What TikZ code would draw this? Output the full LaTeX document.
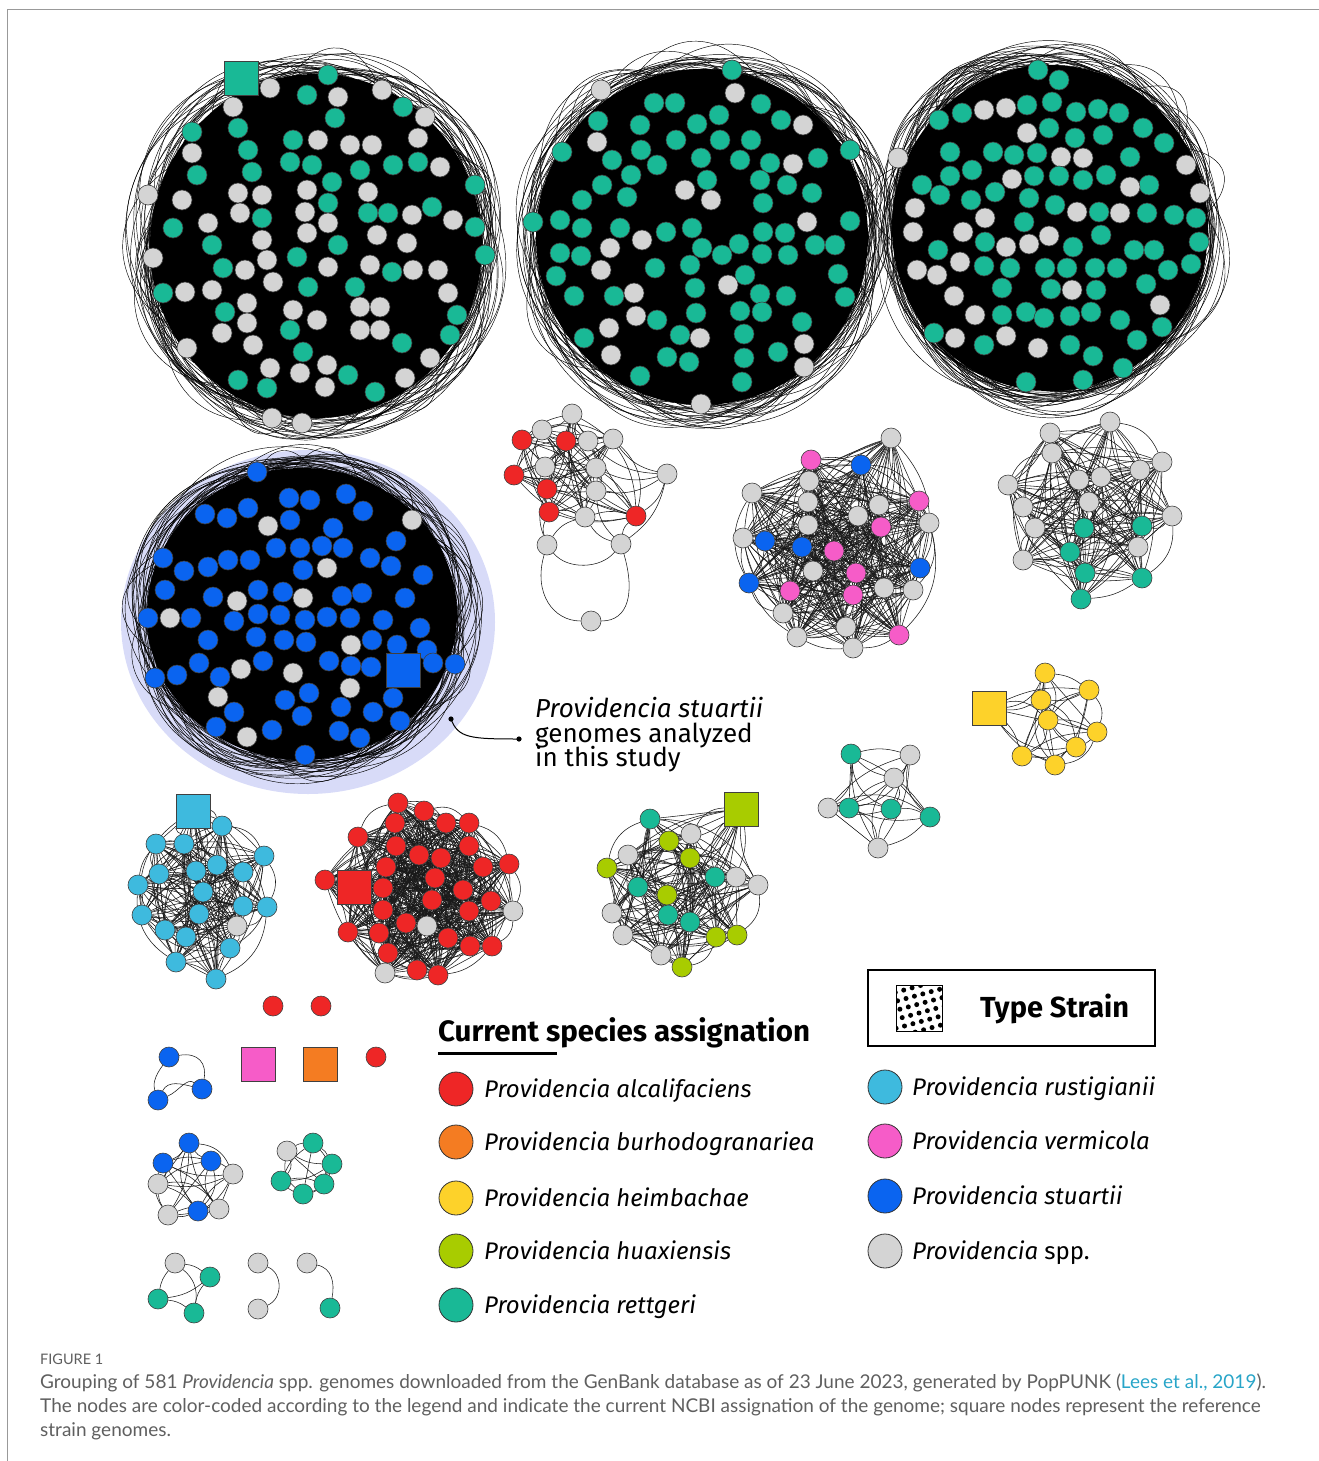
\documentclass[tikz,border=0pt]{standalone}
\usepackage{fontspec}
\setmainfont{Fira Sans}
\newfontfamily\capfont{Lato}
\usetikzlibrary{calc}
\definecolor{colT}{RGB}{25,185,150}
\definecolor{colG}{RGB}{212,212,212}
\definecolor{colR}{RGB}{238,38,38}
\definecolor{colO}{RGB}{244,124,34}
\definecolor{colY}{RGB}{253,210,42}
\definecolor{colL}{RGB}{168,204,0}
\definecolor{colC}{RGB}{62,186,222}
\definecolor{colP}{RGB}{246,92,200}
\definecolor{colB}{RGB}{10,100,240}
\definecolor{colHalo}{RGB}{216,219,248}
\definecolor{colLink}{RGB}{40,165,200}
\definecolor{colCap}{RGB}{95,95,95}
\pgfdeclarelayer{back}
\pgfdeclarelayer{lnks}
\pgfsetlayers{back,lnks,main}
\tikzset{
 nd/.style={circle, draw=black!75, line width=0.6pt, minimum size=20pt, inner sep=0pt},
 sq/.style={rectangle, draw=black!75, line width=0.6pt, minimum size=34pt, inner sep=0pt},
 lnk/.style={draw=black!90, line width=0.55pt},
 rng/.style={draw=black, line width=0.45pt},
 legc/.style={circle, draw=black!80, line width=0.8pt, minimum size=34pt, inner sep=0pt},
 legtxt/.style={anchor=base west, font=\fontsize{24}{28}\selectfont\itshape, inner sep=0pt},
 anntxt/.style={anchor=base west, inner sep=0pt, font=\fontsize{26}{26}\selectfont},
}
\newcommand\denseblob[4]{%
 \fill[black] (#1,#2) ellipse [x radius=#3, y radius=#4];
 \foreach \k in {1,...,105}{
   \pgfmathsetmacro\aa{rnd*360}
   \pgfmathsetmacro\ss{20+rnd*115}
   \pgfmathsetmacro\ee{1.02+rnd*0.15}
   \pgfmathsetmacro\bb{\aa+\ss}
   \pgfmathsetmacro\ab{\aa+\ss/3}
   \pgfmathsetmacro\ba{\bb-\ss/3}
   \pgfmathsetmacro\fc{(\ee-0.25*cos(\ss/2))/(0.75*cos(\ss/6))}
   \pgfmathsetmacro\pax{#1+#3*cos(\aa)}
   \pgfmathsetmacro\pay{#2+#4*sin(\aa)}
   \pgfmathsetmacro\pbx{#1+#3*cos(\bb)}
   \pgfmathsetmacro\pby{#2+#4*sin(\bb)}
   \pgfmathsetmacro\qax{#1+#3*\fc*cos(\ab)}
   \pgfmathsetmacro\qay{#2+#4*\fc*sin(\ab)}
   \pgfmathsetmacro\qbx{#1+#3*\fc*cos(\ba)}
   \pgfmathsetmacro\qby{#2+#4*\fc*sin(\ba)}
   \draw[rng] (\pax,\pay) .. controls (\qax,\qay) and (\qbx,\qby) .. (\pbx,\pby);
 }}
\newcommand\allpairs[2]{%
 \foreach \i in {1,...,#2}{
   \pgfmathtruncatemacro\ia{\i+1}
   \ifnum\ia>#2\relax\else
   \foreach \j in {\ia,...,#2}{
     \pgfmathtruncatemacro\bd{mod(\i*7+\j*3,5)*15-30}
     \draw[lnk] (#1\i) to[bend left=\bd] (#1\j);
   }\fi
 }}
\begin{document}
\begin{tikzpicture}[x=1pt,y=-1pt]
\pgfmathsetseed{4242}
\useasboundingbox (0,0) rectangle (1319,1461);
\draw[black!40, line width=0.8pt] (7,1461) -- (7,9) -- (1319,9);

\begin{pgfonlayer}{back}
\denseblob{316}{246}{166}{172}
\denseblob{702}{237}{166}{168}
\denseblob{1050}{228}{158}{163}
\fill[colHalo] (308,622) ellipse [x radius=187, y radius=172];
\denseblob{302}{614}{155}{146}
\end{pgfonlayer}

% ---------- big cluster 1 ----------
\node[sq,fill=colT] (A0) at (241,78) {};
\foreach \x/\y/\c [count=\i] in {270/88/G, 328/75/T, 307/95/T, 338/97/G, 382/90/G, 403/107/T, 425/117/G, 233/107/G, 335/118/T, 192/132/T, 238/128/T, 192/153/G, 248/150/T, 293/140/T, 318/140/G, 350/145/G, 372/145/G, 418/138/G, 418/162/T, 197/175/T, 252/172/T, 290/162/T, 312/165/T, 360/170/T, 393/165/T, 440/167/G, 475/185/T, 148/195/G, 182/200/G, 238/193/G, 262/195/G, 307/190/G, 332/182/T, 368/192/G, 328/203/T, 432/207/T, 368/213/T, 388/213/T, 412/215/G, 453/220/G, 475/227/T, 173/228/T, 208/223/G, 240/213/G, 262/218/T, 305/212/G, 328/223/G, 307/233/G, 377/235/G, 407/243/G, 485/255/T, 153/258/G, 212/245/T, 262/240/G, 338/245/T, 297/257/T, 267/260/G, 223/268/T, 245/270/G, 328/267/G, 370/265/G, 392/272/T, 413/270/G, 438/270/G, 163/293/T, 185/292/G, 212/290/G, 273/282/G, 308/287/T, 355/287/T, 448/293/G, 247/303/G, 225/312/T, 293/310/G, 360/307/G, 380/307/G, 457/315/T, 247/323/G, 317/320/G, 222/333/G, 290/330/T, 360/330/G, 380/330/G, 450/335/T, 253/345/G, 303/352/T, 402/343/T, 187/348/G, 430/358/G, 270/368/G, 300/373/G, 327/365/G, 348/375/T, 405/378/G, 238/380/T, 267/388/T, 325/387/G, 375/392/T, 272/418/G, 302/423/G}
  \node[nd,fill=col\c] (A\i) at (\x,\y) {};

% ---------- big cluster 2 ----------
\foreach \x/\y/\c [count=\i] in {732/70/T, 601/90/G, 735/93/G, 654/103/T, 675/103/T, 761/104/T, 598/121/T, 640/125/T, 697/124/T, 719/115/T, 781/120/T, 803/125/G, 597/142/G, 641/150/T, 676/140/T, 720/140/T, 751/140/T, 818/158/T, 850/150/T, 562/152/T, 612/160/T, 657/165/T, 701/158/T, 740/160/T, 770/163/T, 793/164/G, 602/185/T, 631/175/T, 685/190/G, 707/180/T, 760/180/T, 787/185/T, 812/193/T, 582/200/T, 627/197/T, 711/200/G, 763/203/T, 807/222/G, 850/221/T, 533/222/T, 560/220/T, 582/228/T, 620/228/T, 642/240/G, 666/232/T, 692/228/T, 739/244/T, 763/232/T, 785/233/T, 815/245/T, 560/253/T, 581/256/T, 610/248/G, 702/248/T, 722/255/T, 762/254/T, 788/255/T, 835/245/T, 556/276/T, 601/270/G, 655/268/T, 690/265/T, 745/275/T, 838/274/T, 574/296/T, 614/296/T, 634/293/G, 695/288/T, 728/285/G, 760/294/T, 786/296/T, 845/297/T, 636/316/G, 657/320/T, 696/313/T, 740/311/T, 762/312/T, 802/322/T, 584/338/T, 609/328/G, 680/335/T, 700/338/G, 744/334/T, 804/344/G, 611/355/G, 667/357/T, 689/362/T, 744/358/T, 778/352/T, 804/367/G, 640/376/T, 742/382/T, 701/404/G}
  \node[nd,fill=col\c] (K\i) at (\x,\y) {};

% ---------- big cluster 3 ----------
\foreach \x/\y/\c [count=\i] in {1038/70/T, 1059/80/T, 1006/108/G, 1027/105/T, 1052/102/T, 984/110/G, 962/113/T, 939/120/T, 1076/112/T, 1098/109/T, 1119/113/T, 1143/128/T, 1164/143/T, 1027/133/G, 1049/128/T, 1075/138/T, 1103/135/T, 1186/165/G, 898/158/G, 950/152/T, 972/170/T, 993/152/T, 1014/155/T, 1037/153/T, 1061/157/G, 1083/158/G, 1130/157/T, 1106/175/T, 922/185/T, 950/176/T, 1012/179/G, 1034/176/T, 1059/176/T, 1083/180/T, 1149/185/T, 1130/187/G, 1200/193/G, 915/208/G, 940/195/T, 971/200/T, 995/192/T, 1029/198/T, 1055/205/T, 1077/212/G, 1099/212/T, 1120/213/G, 1147/213/T, 1174/215/T, 1196/218/T, 913/232/G, 963/232/G, 985/218/G, 1024/222/T, 1049/236/G, 1101/235/T, 1199/242/T, 938/250/T, 985/242/T, 1006/247/G, 1029/244/G, 1073/247/T, 1134/250/T, 1154/250/T, 1191/264/T, 917/270/G, 960/262/G, 984/266/T, 1010/268/T, 1045/268/T, 1067/268/T, 1095/268/T, 1117/268/T, 1168/270/T, 937/275/G, 1002/288/T, 1051/289/T, 1072/290/G, 1096/290/T, 1146/284/T, 954/296/G, 1026/312/T, 1044/318/T, 1070/316/T, 1091/312/T, 1160/305/G, 975/315/G, 1120/320/T, 1162/327/T, 1002/315/T, 934/333/T, 1006/336/G, 1038/348/G, 1070/345/T, 984/345/T, 1137/340/T, 955/338/G, 1093/356/T, 1123/368/T, 1026/382/T, 1083/380/T}
  \node[nd,fill=col\c] (M\i) at (\x,\y) {};

% ---------- blue cluster ----------
\foreach \x/\y/\c [count=\i] in {257/472/B, 346/494/B, 289/498/B, 310/500/B, 248/508/B, 205/514/B, 227/518/B, 363/511/B, 412/520/G, 290/520/B, 268/526/G, 333/528/B, 396/541/B, 163/558/B, 276/548/B, 300/548/B, 322/546/B, 343/548/B, 208/567/B, 184/571/B, 228/560/B, 250/560/B, 303/570/B, 327/568/G, 370/558/B, 391/566/B, 423/575/B, 258/590/B, 283/592/B, 237/601/G, 303/598/G, 342/596/B, 362/593/B, 405/598/B, 165/590/B, 213/597/B, 148/618/B, 170/618/G, 191/618/B, 234/621/B, 258/614/B, 280/615/B, 305/620/B, 327/617/B, 350/618/B, 383/620/B, 420/628/B, 208/640/B, 256/637/B, 284/640/B, 306/642/B, 351/645/G, 372/640/B, 397/645/B, 427/650/B, 199/663/B, 241/669/G, 263/661/B, 293/673/G, 329/661/B, 351/666/B, 371/667/B, 433/663/B, 455/664/B, 155/678/B, 177/675/B, 220/677/B, 218/697/G, 285/700/B, 309/693/B, 350/688/G, 393/698/B, 234/712/B, 341/707/B, 302/716/B, 373/712/B, 400/721/B, 216/727/B, 247/737/G, 272/730/B, 339/731/B, 360/738/B, 305/755/B}
  \node[nd,fill=col\c] (B\i) at (\x,\y) {};
\node[sq,fill=colB] (B0) at (403,670) {};

% ---------- small red/gray cluster ----------
\foreach \x/\y/\c [count=\i] in {572/414/G, 542/430/G, 522/440/R, 566/441/R, 588/441/G, 613/439/G, 545/467/G, 596/468/G, 514/475/R, 547/489/R, 596/491/G, 549/512/R, 585/517/G, 636/516/R, 667/474/G, 547/545/G, 621/544/G, 591/621/G}
  \node[nd,fill=col\c] (R\i) at (\x,\y) {};

% ---------- pink/blue cluster ----------
\foreach \x/\y/\c [count=\i] in {891/438/G, 811/460/P, 861/465/B, 809/481/G, 752/493/G, 919/501/P, 808/502/G, 879/505/G, 858/516/G, 929/523/G, 808/525/G, 881/527/P, 743/538/G, 765/541/B, 802/547/B, 834/551/P, 813/571/G, 856/573/P, 920/568/B, 749/583/B, 790/591/P, 884/588/G, 913/590/G, 853/595/P, 783/613/G, 846/627/G, 797/637/G, 899/635/P, 853/648/G}
  \node[nd,fill=col\c] (P\i) at (\x,\y) {};

% ---------- gray/teal cluster ----------
\foreach \x/\y/\c [count=\i] in {1110/422/G, 1050/433/G, 1052/453/G, 1162/462/G, 1140/470/G, 1079/480/G, 1101/477/G, 1008/485/G, 1023/507/G, 1089/502/G, 1172/516/G, 1035/528/G, 1084/528/T, 1142/526/T, 1138/547/G, 1070/552/T, 1023/560/G, 1085/573/T, 1142/578/T, 1081/599/T}
  \node[nd,fill=col\c] (H\i) at (\x,\y) {};

% ---------- yellow cluster ----------
\foreach \x/\y [count=\i] in {1045/673, 1089/690, 1041/700, 1048/720, 1097/732, 1076/747, 1022/756, 1055/765}
  \node[nd,fill=colY] (Y\i) at (\x,\y) {};
\node[sq,fill=colY] (Y9) at (989,708) {};

% ---------- small teal/gray ----------
\foreach \x/\y/\c [count=\i] in {851/754/T, 910/755/G, 894/778/G, 828/808/G, 849/808/T, 891/809/T, 930/817/T, 878/848/G}
  \node[nd,fill=col\c] (F\i) at (\x,\y) {};

% ---------- light blue cluster ----------
\foreach \x/\y/\c [count=\i] in {222/826/C, 156/844/C, 184/844/C, 264/856/C, 217/865/C, 196/871/C, 159/874/C, 243/872/C, 138/885/C, 203/892/C, 243/906/C, 267/907/C, 142/915/C, 199/914/C, 237/926/G, 165/930/C, 186/937/C, 230/948/C, 176/962/C, 216/979/C}
  \node[nd,fill=col\c] (C\i) at (\x,\y) {};
\node[sq,fill=colC] (C21) at (193,811) {};

% ---------- red cluster ----------
\foreach \x/\y/\c [count=\i] in {398/803/R, 424/811/R, 395/823/R, 446/823/R, 469/823/R, 358/837/R, 396/846/R, 469/846/R, 419/855/R, 441/858/R, 386/867/R, 483/867/R, 509/864/R, 325/880/R, 435/878/R, 383/888/R, 463/890/R, 491/901/R, 432/900/R, 383/910/R, 513/911/G, 469/911/R, 406/923/R, 427/926/G, 348/932/R, 379/933/R, 448/938/R, 470/946/R, 492/946/R, 388/953/R, 385/973/G, 417/970/R, 438/975/R}
  \node[nd,fill=col\c] (D\i) at (\x,\y) {};
\node[sq,fill=colR] (D34) at (354,887) {};

% ---------- lime cluster ----------
\foreach \x/\y/\c [count=\i] in {650/819/T, 691/834/G, 669/841/L, 628/855/G, 690/858/L, 607/868/L, 715/877/T, 736/877/G, 758/885/G, 638/887/T, 667/895/L, 612/913/G, 668/915/T, 690/922/T, 623/935/G, 716/937/L, 737/935/L, 661/955/G, 682/967/L}
  \node[nd,fill=col\c] (E\i) at (\x,\y) {};
\node[sq,fill=colL] (E20) at (741,809) {};

% ---------- tiny components ----------
\node[nd,fill=colR] (S1) at (273,1006) {};
\node[nd,fill=colR] (S2) at (321,1006) {};
\node[nd,fill=colR] (S3) at (376,1057) {};
\node[sq,fill=colP] (S4) at (258,1064) {};
\node[sq,fill=colO] (S5) at (320,1064) {};
\node[nd,fill=colB] (T1) at (169,1057) {};
\node[nd,fill=colB] (T2) at (202,1089) {};
\node[nd,fill=colB] (T3) at (158,1100) {};
\foreach \x/\y/\c [count=\i] in {189/1143/B, 163/1163/B, 211/1161/B, 233/1174/G, 158/1184/G, 198/1211/B, 168/1215/G, 219/1209/G}
  \node[nd,fill=col\c] (U\i) at (\x,\y) {};
\foreach \x/\y/\c [count=\i] in {287/1151/G, 313/1143/T, 332/1164/T, 281/1181/T, 324/1184/T, 303/1194/T}
  \node[nd,fill=col\c] (V\i) at (\x,\y) {};
\foreach \x/\y/\c [count=\i] in {175/1263/G, 210/1277/T, 158/1299/T, 194/1313/T}
  \node[nd,fill=col\c] (W\i) at (\x,\y) {};
\node[nd,fill=colG] (X1) at (258,1263) {};
\node[nd,fill=colG] (X2) at (258,1309) {};
\node[nd,fill=colG] (Z1) at (307,1263) {};
\node[nd,fill=colT] (Z2) at (330,1308) {};

% ---------- edges ----------
\begin{pgfonlayer}{lnks}
\allpairs{R}{14}
\foreach \a/\b in {15/6,15/5,15/8,15/11,15/14,15/17,16/13,16/12,16/10,17/14,17/13,17/11}
  \draw[lnk] (R\a) to[bend left=20] (R\b);
\draw[lnk] (R16) .. controls +(20,25) and +(-20,25) .. (R17);
\draw[lnk] (R16) .. controls +(-14,48) and +(-38,0) .. (R18);
\draw[lnk] (R17) .. controls +(14,48) and +(38,0) .. (R18);
\allpairs{P}{29}
\allpairs{H}{20}
\allpairs{Y}{9}
\allpairs{F}{8}
\allpairs{C}{21}
\allpairs{D}{34}
\allpairs{E}{20}
\allpairs{U}{8}
\allpairs{V}{6}
\allpairs{W}{4}
\draw[lnk] (T1) .. controls +(30,-5) and +(5,-25) .. (T2);
\draw[lnk] (T1) .. controls +(-15,20) and +(-5,-15) .. (T3);
\draw[lnk] (T3) .. controls +(10,-20) and +(-20,-5) .. (T2);
\draw[lnk] (T3) .. controls +(20,-8) and +(-15,-12) .. (T2);
\draw[lnk] (X1) .. controls +(25,10) and +(25,-10) .. (X2);
\draw[lnk] (Z1) .. controls +(25,5) and +(5,-25) .. (Z2);
\end{pgfonlayer}

% ---------- annotation ----------
\coordinate (ann0) at (451,719);
\coordinate (ann1) at (519,739);
\draw[line width=1pt] (ann0) .. controls (458,738) and (470,739) .. (ann1);
\fill (ann0) circle (2.6);
\fill (ann1) circle (2.6);
\node[anntxt] (ann2) at (535,717) {\itshape Providencia stuartii};
\node[anntxt] (ann3) at (535,742) {genomes analyzed};
\node[anntxt] (ann4) at (535,766) {in this study};

% ---------- legend ----------
\node[anchor=base west,inner sep=0pt,font=\fontsize{29.5}{32}\selectfont\bfseries] (ltitle) at (438,1041) {Current species assignation};
\draw[line width=3pt] (438,1053) -- (557,1053);
\foreach \y/\c/\t [count=\i] in {1089/R/alcalifaciens, 1142/O/burhodogranariea, 1198/Y/heimbachae, 1251/L/huaxiensis, 1305/T/rettgeri}{
  \node[legc,fill=col\c] (lc\i) at (456,\y) {};
  \node[legtxt] (lt\i) at (484,\y+8) {Providencia \t};
}
\foreach \y/\c/\t [count=\i] in {1087/C/rustigianii, 1141/P/vermicola, 1196/B/stuartii}{
  \node[legc,fill=col\c] (rc\i) at (885,\y) {};
  \node[legtxt] (rt\i) at (912,\y+8) {Providencia \t};
}
\node[legc,fill=colG] (rc4) at (885,1251) {};
\node[legtxt] (rt4) at (912,1259) {Providencia \upshape spp.};

\node[draw,line width=2.5pt,minimum width=287pt,minimum height=76pt,inner sep=0pt] (tsbox) at (1011.5,1008) {};
\node[draw,line width=1pt,minimum size=46pt,inner sep=0pt] (tsq) at (919,1008) {};
\begin{scope}
\clip (896,985) rectangle (942,1031);
\foreach \i in {-3,...,8}{\foreach \j in {-3,...,8}{
  \fill[black] ({893+\i*8.4+\j*2.3},{984+\j*8.4-\i*2.3}) circle (2.5);
}}
\end{scope}
\node[anchor=base west,inner sep=0pt,font=\fontsize{29}{32}\selectfont\bfseries] (tstxt) at (980,1017) {Type Strain};

% ---------- caption ----------
\node[anchor=base west,inner sep=0pt,font=\capfont\fontsize{14.5}{16}\selectfont,text=colCap] (fig) at (40,1364) {FIGURE 1};
\node[anchor=base west,inner sep=0pt,font=\capfont\fontsize{19}{22}\selectfont,text=colCap] (cap1) at (40,1388) {Grouping of 581 \textit{Providencia} spp. genomes downloaded from the GenBank database as of 23 June 2023, generated by PopPUNK ({\color{colLink}Lees et al., 2019}).};
\node[anchor=base west,inner sep=0pt,font=\capfont\fontsize{19}{22}\selectfont,text=colCap] (cap2) at (40,1412) {The nodes are color-coded according to the legend and indicate the current NCBI assignation of the genome; square nodes represent the reference};
\node[anchor=base west,inner sep=0pt,font=\capfont\fontsize{19}{22}\selectfont,text=colCap] (cap3) at (40,1436) {strain genomes.};
\end{tikzpicture}
\end{document}
